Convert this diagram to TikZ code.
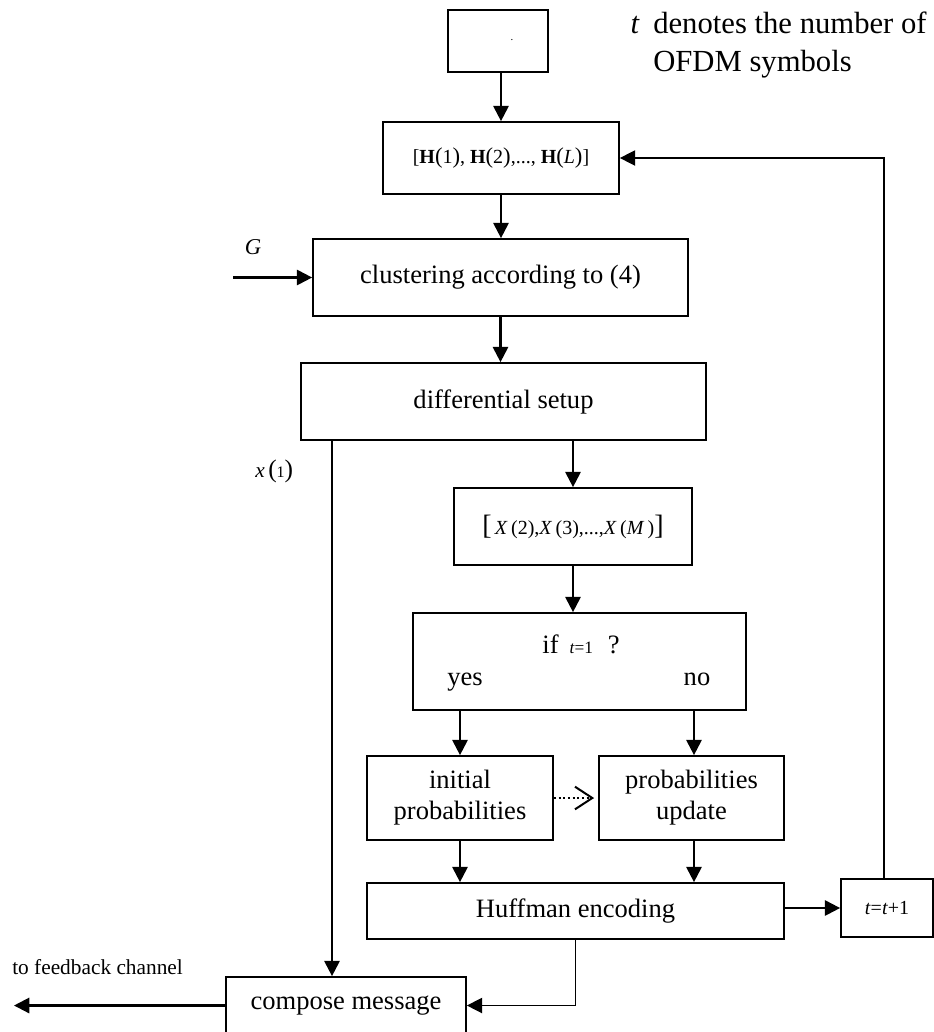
\documentclass[tikz,border=0pt]{standalone}
\usepackage{fontspec}
\setmainfont{Liberation Serif}
\usetikzlibrary{arrows.meta,calc}
\newcommand{\mainsize}{\fontsize{19.9}{23.25}\selectfont}
\begin{document}
\begin{tikzpicture}[x=0.75pt,y=-0.75pt,
  box/.style={draw,line width=1.3pt,inner sep=0pt,font=\mainsize,align=center},
  arr/.style={line width=1.6pt,-{Triangle[length=11.5pt,width=11.5pt]}},
  thinarr/.style={line width=1.1pt,-{Triangle[length=11.5pt,width=11.5pt]}},
  dotarr/.style={line width=1.5pt,dotted,-{Straight Barb[length=13pt,width=17pt]},shorten >=3pt},
  lab/.style={inner sep=0pt,font=\mainsize}]
\useasboundingbox (0,0) rectangle (934,1032);

% boxes
\node[box,minimum width=75pt,minimum height=46.5pt] (top) at (498,41) {};
\node[inner sep=0pt,font=\fontsize{8}{8}\selectfont] (dot) at (512,40) {.};
\node[box,minimum width=177pt,minimum height=54pt] (H) at (501,158)
  {\fontsize{15}{15}\selectfont[\textbf{H}{\fontsize{17}{17}\selectfont(}1{\fontsize{17}{17}\selectfont)}, \textbf{H}{\fontsize{17}{17}\selectfont(}2{\fontsize{17}{17}\selectfont)},..., \textbf{H}{\fontsize{17}{17}\selectfont(}\textit{L}{\fontsize{17}{17}\selectfont)}]};
\node[box,minimum width=281.25pt,minimum height=57.75pt] (clu) at (500.5,277.5) {clustering according to (4)};
\node[box,minimum width=303.75pt,minimum height=57.75pt] (diff) at (503.5,401.5) {differential setup};
\node[box,minimum width=178.5pt,minimum height=57.75pt] (X) at (573,526.5)
  {\fontsize{15}{15}\selectfont{\fontsize{21}{21}\selectfont[}\,\textit{X}\,(2),\textit{X}\,(3),...,\textit{X}\,(\textit{M}\,){\fontsize{21}{21}\selectfont]}};
\node[box,minimum width=249.75pt,minimum height=72.75pt] (if) at (579.5,661.5) {};
\node[lab,anchor=base] (ift) at (581,653)
  {if\hspace{8.2pt}{\fontsize{13}{13}\selectfont\textit{t}=1}\hspace{11pt}?};
\node[lab,anchor=base] (yes) at (465,685) {yes};
\node[lab,anchor=base] (no) at (697,685) {no};
\node[box,minimum width=139.5pt,minimum height=63pt] (init) at (460,798) {initial\\probabilities};
\node[box,minimum width=138.75pt,minimum height=63pt] (upd) at (691.5,798) {probabilities\\update};
\node[box,minimum width=312.75pt,minimum height=42pt] (huff) at (575.5,911) {Huffman encoding};
\node[box,minimum width=69pt,minimum height=43.5pt] (tb) at (887,908)
  {\fontsize{15}{15}\selectfont\textit{t}=\textit{t}+1};
\node[box,minimum width=180pt,minimum height=42.75pt] (comp) at (346,1005.5) {compose message};

% labels
\node[inner sep=0pt,font=\itshape\fontsize{17}{17}\selectfont] (G) at (253,247) {G};
\node[inner sep=0pt,anchor=base west] (x1) at (255,477)
  {\fontsize{16}{16}\selectfont\textit{x}\,{\fontsize{19}{19}\selectfont(}{\fontsize{12}{12}\selectfont 1}{\fontsize{19}{19}\selectfont)}};
\node[inner sep=0pt,anchor=base west,font=\fontsize{16}{16}\selectfont] (fb) at (12,974) {to feedback channel};
\node[inner sep=0pt,anchor=base west,font=\fontsize{23}{23}\selectfont] (note1) at (653,33) {denotes the number of};
\node[inner sep=0pt,anchor=base west,font=\fontsize{23}{23}\selectfont] (note2) at (653,71) {OFDM symbols};
\node[inner sep=0pt,anchor=base east,font=\fontsize{23}{23}\selectfont] (tlab) at (640,33) {\textit{t}};

% coordinates
\coordinate (gin) at (233,277.5);
\coordinate (xline) at (332,0);
\coordinate (updx) at (694,0);
\coordinate (fbx) at (884,0);
\coordinate (out) at (14,1005.5);

% connectors
\draw[arr] (H.north |- top.south) -- (H.north);
\draw[arr] (H.south) -- (H.south |- clu.north);
\draw[arr] (clu.south) -- (clu.south |- diff.north);
\draw[arr] (X.north |- diff.south) -- (X.north);
\draw[arr] (X.south) -- (X.south |- if.north);
\draw[arr] (init.north |- if.south) -- (init.north);
\draw[arr] (if.south -| updx) -- (upd.north -| updx);
\draw[arr] (init.south) -- (init.south |- huff.north);
\draw[arr] (upd.south -| updx) -- (huff.north -| updx);
\draw[dotarr] (init.east) -- (upd.west);
\draw[arr] (huff.east |- tb.west) -- (tb.west);
\draw[thinarr] (tb.north -| fbx) |- (H.east);
\draw[arr] (gin) -- (clu.west);
\draw[arr] (diff.south -| xline) -- (comp.north -| xline);
\draw[thinarr] (huff.south) |- (comp.east);
\draw[arr] (comp.west) -- (out);
\end{tikzpicture}
\end{document}
